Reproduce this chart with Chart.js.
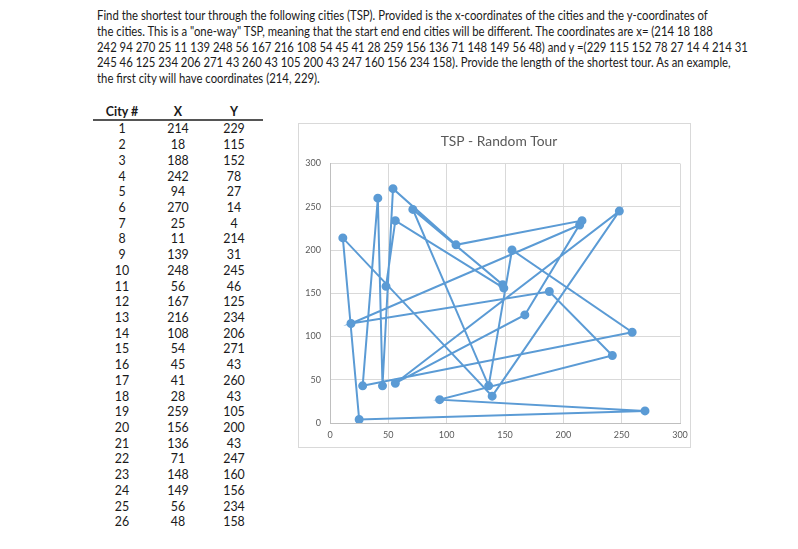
<!DOCTYPE html>
<html>
<head>
<meta charset="utf-8">
<script src="https://cdn.jsdelivr.net/npm/chart.js@4/dist/chart.umd.min.js"></script>
<style>
  body { margin: 0; background: #fff; width: 798px; height: 549px; overflow: hidden; position: relative; font-family: Lato, "Open Sans", sans-serif; color: #1a1a1a; }
  #intro { position: absolute; left: 97px; top: 8px; font-size: 12.8px; line-height: 15.8px; white-space: nowrap; transform: scaleX(0.885); transform-origin: 0 0; }
  #cities { position: absolute; left: 93px; top: 104px; border-collapse: collapse; font-size: 12.4px; }
  #cities th { font-weight: bold; height: 15px; padding: 0; border-bottom: 2px solid #555; }
  #cities td { height: 15.72px; padding: 0; text-align: center; }
  #cities .c0 { width: 58px; } #cities .c1 { width: 54px; } #cities .c2 { width: 58px; }
  #box { position: absolute; left: 298px; top: 123px; width: 393px; height: 325px; border: 1px solid #d9d9d9; box-sizing: border-box; }
  #tsp { position: absolute; left: 298px; top: 123px; }
</style>
</head>
<body>
<div id="intro">Find the shortest tour through the following cities (TSP). Provided is the x-coordinates of the cities and the y-coordinates of<br>the cities. This is a "one-way" TSP, meaning that the start end end cities will be different. The coordinates are x= (214 18 188<br>242 94 270 25 11 139 248 56 167 216 108 54 45 41 28 259 156 136 71 148 149 56 48) and y =(229 115 152 78 27 14 4 214 31<br>245 46 125 234 206 271 43 260 43 105 200 43 247 160 156 234 158). Provide the length of the shortest tour. As an example,<br>the first city will have coordinates (214, 229).</div>
<table id="cities"><thead><tr><th class="c0">City #</th><th class="c1">X</th><th class="c2">Y</th></tr></thead><tbody id="rows"></tbody></table>
<div id="box"></div>
<canvas id="tsp" width="401" height="325"></canvas>
<script>
const cityNums = [1, 2, 3, 4, 5, 6, 7, 8, 9, 10, 11, 12, 13, 14, 15, 16, 17, 18, 19, 20, 21, 22, 23, 24, 25, 26];
const xs = [214, 18, 188, 242, 94, 270, 25, 11, 139, 248, 56, 167, 216, 108, 54, 45, 41, 28, 259, 156, 136, 71, 148, 149, 56, 48];
const ys = [229, 115, 152, 78, 27, 14, 4, 214, 31, 245, 46, 125, 234, 206, 271, 43, 260, 43, 105, 200, 43, 247, 160, 156, 234, 158];
const axisTicks = [0, 50, 100, 150, 200, 250, 300];

let rows = '';
for (let i = 0; i < cityNums.length; i++) {
  rows += `<tr><td>${cityNums[i]}</td><td>${xs[i]}</td><td>${ys[i]}</td></tr>`;
}
document.getElementById('rows').innerHTML = rows;

// tour goes through the cities in listed order, not closed
const tour = xs.map((x, i) => ({ x: x, y: ys[i] }));
const tickStyle = { color: '#595959', font: { family: 'Lato', size: 9 } };

// title sits a bit right of the canvas centre in the original
const nudgeTitle = {
  id: 'nudgeTitle',
  afterLayout: chart => { if (chart.titleBlock) chart.titleBlock.left += 20; }
};

new Chart(document.getElementById('tsp'), {
  type: 'scatter',
  data: {
    datasets: [{
      data: tour,
      showLine: true,
      borderColor: '#5b9bd5',
      backgroundColor: '#5b9bd5',
      borderWidth: 2,
      pointRadius: 3.5,
      tension: 0
    }]
  },
  options: {
    responsive: false,
    animation: false,
    layout: { padding: { left: 0, right: 19, top: 0, bottom: 0 } },
    plugins: {
      legend: { display: false },
      tooltip: { enabled: false },
      title: {
        display: true,
        text: 'TSP - Random Tour',
        color: '#595959',
        font: { family: 'Lato', size: 13.8, weight: 'normal' },
        padding: { top: 10, bottom: 14 }
      }
    },
    scales: {
      x: {
        type: 'linear', min: 0, max: 300,
        afterBuildTicks: s => { s.ticks = axisTicks.map(v => ({ value: v })); },
        afterFit: s => { s.height = 25; },
        grid: { color: '#d9d9d9', drawTicks: false },
        border: { color: '#bfbfbf' },
        ticks: Object.assign({ padding: 7 }, tickStyle)
      },
      y: {
        type: 'linear', min: 0, max: 300,
        afterBuildTicks: s => { s.ticks = axisTicks.map(v => ({ value: v })); },
        afterFit: s => { s.width = 32; },
        grid: { color: '#d9d9d9', drawTicks: false },
        border: { color: '#bfbfbf' },
        ticks: Object.assign({ padding: 9 }, tickStyle)
      }
    }
  },
  plugins: [nudgeTitle]
});
</script>
</body>
</html>
